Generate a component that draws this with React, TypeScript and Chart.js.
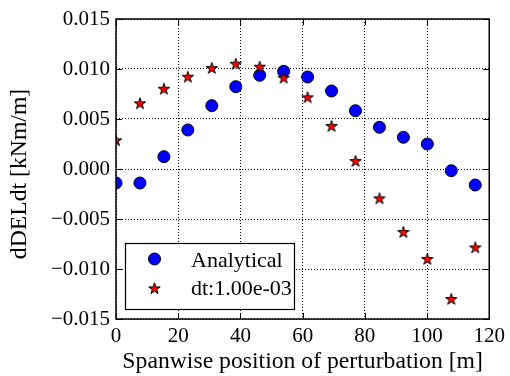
import React, { useEffect, useRef } from "react";
import { Chart, registerables } from "chart.js";

Chart.register(...registerables);

const xPositions = [0, 7.7, 15.4, 23.1, 30.8, 38.5, 46.2, 53.9, 61.6, 69.3, 77.0, 84.7, 92.4, 100.1, 107.8, 115.5];
const analytical = [-0.0014, -0.0014, 0.00123, 0.0039, 0.00633, 0.00823, 0.00937, 0.00977, 0.0092, 0.0078, 0.00583, 0.00417, 0.00317, 0.0025, -0.00017, -0.0016];
const dtSeries = [0.00287, 0.00657, 0.00803, 0.00923, 0.0101, 0.01053, 0.01023, 0.00913, 0.00717, 0.0043, 0.0008, -0.00293, -0.0063, -0.009, -0.013, -0.00784];
const seriesLabels = ["Analytical", "dt:1.00e-03"];
const xTitle = "Spanwise position of perturbation [m]";
const yTitle = "dDELdt [kNm/m]";

const FONT_FAMILY = "'Liberation Serif', 'DejaVu Serif', serif";
const TICK_SIZE = 21;
const TITLE_SIZE = 23.7;
const LEGEND_SIZE = 22;

function starPath(ctx: CanvasRenderingContext2D, cx: number, cy: number, R: number) {
  const r = R * 0.381966;
  ctx.beginPath();
  for (let i = 0; i < 10; i++) {
    const rad = i % 2 === 0 ? R : r;
    const a = -Math.PI / 2 + (i * Math.PI) / 5;
    const px = cx + rad * Math.cos(a);
    const py = cy + rad * Math.sin(a);
    if (i === 0) ctx.moveTo(px, py);
    else ctx.lineTo(px, py);
  }
  ctx.closePath();
}

function makeStar(): HTMLCanvasElement {
  const c = document.createElement("canvas");
  c.width = 18;
  c.height = 18;
  const ctx = c.getContext("2d")!;
  starPath(ctx, 9, 9.5, 6);
  ctx.fillStyle = "#ff0000";
  ctx.fill();
  ctx.lineWidth = 1;
  ctx.strokeStyle = "#000";
  ctx.lineJoin = "miter";
  ctx.stroke();
  return c;
}

function fmtY(v: number): string {
  if (Math.abs(v) < 1e-9) return "0.000";
  return (v < 0 ? "\u2212" : "") + Math.abs(v).toFixed(3);
}

const framePlugin = {
  id: "frameAndLegend",
  afterDraw(chart: any) {
    const { ctx, chartArea } = chart;
    const { left, right, top, bottom } = chartArea;
    const xs = chart.scales.x;
    const ys = chart.scales.y;
    ctx.save();
    // inward ticks
    ctx.strokeStyle = "#000";
    ctx.lineWidth = 1;
    const tl = 6;
    ctx.beginPath();
    xs.ticks.forEach((t: any) => {
      const px = Math.round(xs.getPixelForValue(t.value)) + 0.5;
      ctx.moveTo(px, bottom);
      ctx.lineTo(px, bottom - tl);
      ctx.moveTo(px, top);
      ctx.lineTo(px, top + tl);
    });
    ys.ticks.forEach((t: any) => {
      const py = Math.round(ys.getPixelForValue(t.value)) + 0.5;
      ctx.moveTo(left, py);
      ctx.lineTo(left + tl, py);
      ctx.moveTo(right, py);
      ctx.lineTo(right - tl, py);
    });
    ctx.stroke();
    // frame
    ctx.lineWidth = 1.5;
    ctx.strokeRect(left, top, right - left, bottom - top);

    // y title
    ctx.save();
    ctx.translate(20, 174);
    ctx.rotate(-Math.PI / 2);
    ctx.fillStyle = "#000";
    ctx.font = `${TITLE_SIZE}px ${FONT_FAMILY}`;
    ctx.textAlign = "center";
    ctx.textBaseline = "middle";
    ctx.fillText(yTitle, 0, 0);
    ctx.restore();

    // legend
    const lx = 125.5, ly = 243.5, lw = 169, lh = 66;
    ctx.fillStyle = "#fff";
    ctx.fillRect(lx, ly, lw, lh);
    ctx.lineWidth = 1.2;
    ctx.strokeStyle = "#000";
    ctx.strokeRect(lx, ly, lw, lh);
    ctx.beginPath();
    ctx.arc(154.5, 259, 6, 0, Math.PI * 2);
    ctx.fillStyle = "#0000ff";
    ctx.fill();
    ctx.lineWidth = 1;
    ctx.stroke();
    starPath(ctx, 154.5, 288.8, 6);
    ctx.fillStyle = "#ff0000";
    ctx.fill();
    ctx.stroke();
    ctx.fillStyle = "#000";
    ctx.font = `${LEGEND_SIZE}px ${FONT_FAMILY}`;
    ctx.textAlign = "left";
    ctx.textBaseline = "alphabetic";
    ctx.fillText(seriesLabels[0], 191, 266.5);
    ctx.fillText(seriesLabels[1], 191, 295);
    ctx.restore();
  },
};

export default function App() {
  const ref = useRef<HTMLCanvasElement>(null);
  useEffect(() => {
    const star = makeStar();
    const chart = new Chart(ref.current!, {
      type: "scatter",
      data: {
        datasets: [
          {
            label: seriesLabels[0],
            data: xPositions.map((x, i) => ({ x, y: analytical[i] })),
            pointStyle: "circle",
            pointRadius: 6,
            pointBorderWidth: 1,
            backgroundColor: "#0000ff",
            borderColor: "#000",
            clip: 0,
            order: 2,
          } as any,
          {
            label: seriesLabels[1],
            data: xPositions.map((x, i) => ({ x, y: dtSeries[i] })),
            pointStyle: star,
            pointRadius: 6,
            backgroundColor: "#ff0000",
            borderColor: "#000",
            clip: 0,
            order: 1,
          } as any,
        ],
      },
      options: {
        responsive: false,
        animation: false,
        layout: { padding: { top: 19, right: 19, left: 0, bottom: 0 } },
        plugins: { legend: { display: false }, tooltip: { enabled: false } },
        scales: {
          x: {
            type: "linear",
            min: 0,
            max: 120,
            ticks: {
              stepSize: 20,
              color: "#000",
              padding: 5,
              font: { family: FONT_FAMILY, size: TICK_SIZE },
              maxRotation: 0,
            },
            grid: { color: "#000", lineWidth: 1, drawTicks: false },
            border: { display: false, dash: [1, 2] },
            title: {
              display: true,
              text: xTitle,
              color: "#000",
              font: { family: FONT_FAMILY, size: TITLE_SIZE, lineHeight: 1.2 },
              padding: { top: 0, bottom: 0 },
            },
            afterFit(scale: any) {
              scale.height = 57;
            },
          },
          y: {
            type: "linear",
            min: -0.015,
            max: 0.015,
            ticks: {
              stepSize: 0.005,
              color: "#000",
              padding: 6,
              font: { family: FONT_FAMILY, size: TICK_SIZE },
              callback: (v: any) => fmtY(Number(v)),
            },
            grid: { color: "#000", lineWidth: 1, drawTicks: false },
            border: { display: false, dash: [1, 2] },
            title: { display: false },
            afterFit(scale: any) {
              scale.width = 116;
            },
          },
        },
      },
      plugins: [framePlugin],
    } as any);
    return () => chart.destroy();
  }, []);
  return (
    <div style={{ position: "fixed", left: 0, top: 0, width: 510, height: 376, background: "#fff" }}>
      <canvas ref={ref} width={510} height={376} style={{ display: "block" }} />
    </div>
  );
}
